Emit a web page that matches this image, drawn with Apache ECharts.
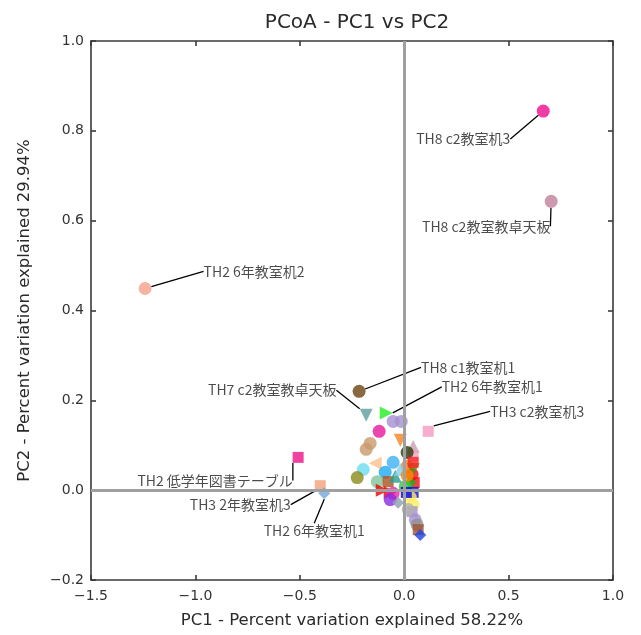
<!DOCTYPE html>
<html>
<head>
<meta charset="utf-8">
<script src="https://cdn.jsdelivr.net/npm/echarts@6/dist/echarts.min.js"></script>
<style>
  html, body { margin: 0; padding: 0; background: #fff; }
  #chart { width: 641px; height: 635px; }
</style>
</head>
<body>
<div id="chart"></div>
<script>
// Sample labels ('' = unlabeled sample)
const sampleLabels = [
  'TH8 c2教室机3', 'TH8 c2教室教卓天板', 'TH2 6年教室机2', 'TH8 c1教室机1',
  'TH2 6年教室机1', 'TH7 c2教室教卓天板', 'TH3 c2教室机3', 'TH2 低学年図書テーブル',
  'TH3 2年教室机3', 'TH2 6年教室机1',
  '', '', '', '', '', '', '', '', '', '',
  '', '', '', '', '', '', '', '', '', '',
  '', '', '', '', '', '', '', '', '', '',
  '', '', '', '', '', '', '', '', '', '',
  ''
];

// PC1 coordinates
const pc1 = [
  0.666, 0.704, -1.241, -0.216,
  -0.086, -0.182, 0.115, -0.508,
  -0.402, -0.383,
  -0.053, -0.014, -0.120, -0.019, 0.043, 0.043, 0.014, -0.163, -0.182, -0.139,
  -0.053, -0.091, -0.196, -0.225, -0.129, -0.077, -0.043, 0.014, 0.038, 0.048,
  0.029, 0.043, -0.105, -0.067, -0.053, -0.067, -0.029, 0.043, 0.043, 0.038,
  0.053, 0.029, 0.062, 0.067, 0.077, 0.019, -0.019, 0.005, 0.043, 0.014,
  0.010
];

// PC2 coordinates
const pc2 = [
  0.844, 0.643, 0.449, 0.220,
  0.172, 0.167, 0.131, 0.073,
  0.010, -0.007,
  0.153, 0.153, 0.131, 0.111, 0.097, 0.077, 0.084, 0.104, 0.091, 0.060,
  0.062, 0.040, 0.046, 0.028, 0.019, 0.019, 0.031, 0.053, 0.035, 0.017,
  0.017, 0.046, 0.000, -0.005, -0.007, -0.021, -0.028, -0.005, -0.032, -0.048,
  -0.066, -0.016, -0.077, -0.088, -0.100, -0.043, 0.046, 0.008, 0.062, 0.033,
  -0.005
];

// Marker colours
const colors = [
  '#ee0a8f', '#c0809a', '#f5a08a', '#6b4311',
  '#22ee22', '#5f9ea0', '#f49ac2', '#ee1188',
  '#f4a07a', '#6fa8dc',
  '#a590d0', '#a590d0', '#e6179c', '#f5821f', '#c8a0b0', '#f4a0c0', '#2e3b0f', '#c89a6c', '#c89a6c', '#fcc08a',
  '#3fb0f0', '#1eaaf0', '#6cdcf0', '#8b8b1a', '#7fc49c', '#b0501a', '#2a9d8f', '#f58220', '#ee1111', '#ee1111',
  '#22aa22', '#5c8a1a', '#ee0000', '#ee0000', '#ee22aa', '#8a2be2', '#8fa0b0', '#1111cc', '#f5f060', '#a590d0',
  '#a590d0', '#ffee66', '#909090', '#a0522d', '#2244dd', '#b0b0b0', '#87ceeb', '#33cc33', '#ff2222', '#ff8c00',
  '#0000ee'
];

// Marker shapes
const shapes = [
  'circle', 'circle', 'circle', 'circle',
  'triangleRight', 'triangleDown', 'rect', 'rect',
  'rect', 'diamond',
  'circle', 'circle', 'circle', 'triangleDown', 'triangle', 'rect', 'circle', 'circle', 'circle', 'triangleLeft',
  'circle', 'circle', 'circle', 'circle', 'circle', 'rect', 'triangle', 'circle', 'circle', 'rect',
  'diamond', 'triangleDown', 'triangleRight', 'triangleRight', 'circle', 'circle', 'diamond', 'rect', 'circle', 'rect',
  'circle', 'circle', 'circle', 'rect', 'diamond', 'circle', 'triangle', 'circle', 'rect', 'circle',
  'rect'
];

// Label offsets (px) from each labelled marker
const labelOffsets = {
  0: [-80, 28], 1: [-65, 25], 2: [109, -17], 3: [109, -24], 4: [106, -26],
  5: [-94, -25], 6: [109, -20], 7: [-83, 23], 8: [-80, 19], 9: [-10, 37]
};

const shapeStyle = {
  circle:        { symbol: 'circle',   rotate: 0,   size: 13 },
  rect:          { symbol: 'rect',     rotate: 0,   size: 11 },
  diamond:       { symbol: 'diamond',  rotate: 0,   size: 12 },
  triangle:      { symbol: 'triangle', rotate: 0,   size: 13 },
  triangleDown:  { symbol: 'triangle', rotate: 180, size: 13 },
  triangleRight: { symbol: 'triangle', rotate: -90, size: 13 },
  triangleLeft:  { symbol: 'triangle', rotate: 90,  size: 13 }
};

const points = pc1.map((x, i) => {
  const s = shapeStyle[shapes[i]];
  const labelled = sampleLabels[i] !== '';
  return {
    name: sampleLabels[i],
    value: [x, pc2[i]],
    symbol: s.symbol,
    symbolRotate: s.rotate,
    symbolSize: s.size,
    itemStyle: { color: colors[i] },
    label: { show: labelled },
    labelLine: { show: labelled }
  };
});

const FONT = 'DejaVu Sans';
const minus = v => String(v.toFixed(1)).replace('-', '\u2212');

const frame = { show: true, onZero: false, lineStyle: { color: '#3a3a3a', width: 1.6 } };
const ticks = { show: true, inside: true, length: 5, lineStyle: { color: '#3a3a3a', width: 1.6 } };

const chart = echarts.init(document.getElementById('chart'), null, { renderer: 'canvas' });
chart.setOption({
  animation: false,
  backgroundColor: '#fff',
  title: {
    text: 'PCoA - PC1 vs PC2',
    left: 352, top: 8, textAlign: 'center',
    textStyle: { fontFamily: FONT, fontSize: 20, fontWeight: 'normal', color: '#2a2a2a' }
  },
  grid: { left: 91, right: 28, top: 41, bottom: 55 },
  xAxis: [{
    type: 'value', min: -1.5, max: 1.0, interval: 0.5,
    name: 'PC1 - Percent variation explained 58.22%',
    nameLocation: 'middle', nameGap: 32,
    nameTextStyle: { fontFamily: FONT, fontSize: 16.5, color: '#2a2a2a' },
    axisLine: frame, axisTick: ticks, splitLine: { show: false },
    axisLabel: { fontFamily: FONT, fontSize: 14, color: '#333', margin: 9, formatter: minus }
  }, {
    type: 'value', position: 'top', min: -1.5, max: 1.0, interval: 0.5,
    axisLine: frame, axisTick: ticks, splitLine: { show: false },
    axisLabel: { show: false }
  }],
  yAxis: [{
    type: 'value', min: -0.2, max: 1.0, interval: 0.2,
    name: 'PC2 - Percent variation explained 29.94%',
    nameLocation: 'middle', nameGap: 58, nameRotate: 90,
    nameTextStyle: { fontFamily: FONT, fontSize: 16.5, color: '#2a2a2a' },
    axisLine: frame, axisTick: ticks, splitLine: { show: false },
    axisLabel: { fontFamily: FONT, fontSize: 14, color: '#333', margin: 7, formatter: minus }
  }, {
    type: 'value', position: 'right', min: -0.2, max: 1.0, interval: 0.2,
    axisLine: frame, axisTick: ticks, splitLine: { show: false },
    axisLabel: { show: false }
  }],
  series: [{
    // zero reference lines, kept beneath the markers
    type: 'scatter', data: [], z: 1, silent: true,
    markLine: {
      silent: true, symbol: ['none', 'none'], label: { show: false },
      lineStyle: { color: '#a0a0a0', width: 3, type: 'solid' },
      data: [{ xAxis: 0 }, { yAxis: 0 }]
    }
  }, {
    type: 'scatter', z: 3,
    data: points,
    label: {
      show: false, position: 'inside',
      formatter: p => p.name,
      fontFamily: '"Noto Sans CJK JP", "Noto Sans", sans-serif',
      fontSize: 14, color: '#1e1e1e'
    },
    labelLine: { show: false, lineStyle: { color: '#000', width: 1.3 } },
    labelLayout: params => {
      const off = labelOffsets[params.dataIndex];
      return off ? { dx: off[0], dy: off[1], hideOverlap: false } : {};
    }
  }]
});
</script>
</body>
</html>
